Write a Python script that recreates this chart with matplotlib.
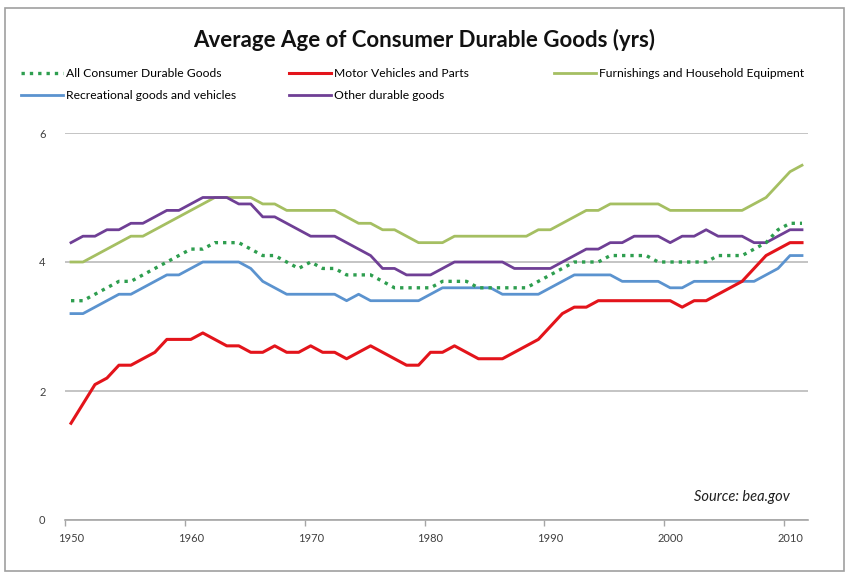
import numpy as np
import matplotlib
matplotlib.use("Agg")
import matplotlib.pyplot as plt
from matplotlib.lines import Line2D
from matplotlib.patches import Rectangle

plt.rcParams['font.family'] = ['Lato', 'DejaVu Sans']

years = list(range(1950, 2012))

all_goods = [3.4, 3.4, 3.5, 3.6, 3.7, 3.7, 3.8, 3.9, 4.0, 4.1,
             4.2, 4.2, 4.3, 4.3, 4.3, 4.2, 4.1, 4.1, 4.0, 3.9,
             4.0, 3.9, 3.9, 3.8, 3.8, 3.8, 3.7, 3.6, 3.6, 3.6,
             3.6, 3.7, 3.7, 3.7, 3.6, 3.6, 3.6, 3.6, 3.6, 3.7,
             3.8, 3.9, 4.0, 4.0, 4.0, 4.1, 4.1, 4.1, 4.1, 4.0,
             4.0, 4.0, 4.0, 4.0, 4.1, 4.1, 4.1, 4.2, 4.3, 4.5,
             4.6, 4.6]

motor = [1.5, 1.8, 2.1, 2.2, 2.4, 2.4, 2.5, 2.6, 2.8, 2.8,
         2.8, 2.9, 2.8, 2.7, 2.7, 2.6, 2.6, 2.7, 2.6, 2.6,
         2.7, 2.6, 2.6, 2.5, 2.6, 2.7, 2.6, 2.5, 2.4, 2.4,
         2.6, 2.6, 2.7, 2.6, 2.5, 2.5, 2.5, 2.6, 2.7, 2.8,
         3.0, 3.2, 3.3, 3.3, 3.4, 3.4, 3.4, 3.4, 3.4, 3.4,
         3.4, 3.3, 3.4, 3.4, 3.5, 3.6, 3.7, 3.9, 4.1, 4.2,
         4.3, 4.3]

furnishings = [4.0, 4.0, 4.1, 4.2, 4.3, 4.4, 4.4, 4.5, 4.6, 4.7,
               4.8, 4.9, 5.0, 5.0, 5.0, 5.0, 4.9, 4.9, 4.8, 4.8,
               4.8, 4.8, 4.8, 4.7, 4.6, 4.6, 4.5, 4.5, 4.4, 4.3,
               4.3, 4.3, 4.4, 4.4, 4.4, 4.4, 4.4, 4.4, 4.4, 4.5,
               4.5, 4.6, 4.7, 4.8, 4.8, 4.9, 4.9, 4.9, 4.9, 4.9,
               4.8, 4.8, 4.8, 4.8, 4.8, 4.8, 4.8, 4.9, 5.0, 5.2,
               5.4, 5.5]

recreational = [3.2, 3.2, 3.3, 3.4, 3.5, 3.5, 3.6, 3.7, 3.8, 3.8,
                3.9, 4.0, 4.0, 4.0, 4.0, 3.9, 3.7, 3.6, 3.5, 3.5,
                3.5, 3.5, 3.5, 3.4, 3.5, 3.4, 3.4, 3.4, 3.4, 3.4,
                3.5, 3.6, 3.6, 3.6, 3.6, 3.6, 3.5, 3.5, 3.5, 3.5,
                3.6, 3.7, 3.8, 3.8, 3.8, 3.8, 3.7, 3.7, 3.7, 3.7,
                3.6, 3.6, 3.7, 3.7, 3.7, 3.7, 3.7, 3.7, 3.8, 3.9,
                4.1, 4.1]

other = [4.3, 4.4, 4.4, 4.5, 4.5, 4.6, 4.6, 4.7, 4.8, 4.8,
         4.9, 5.0, 5.0, 5.0, 4.9, 4.9, 4.7, 4.7, 4.6, 4.5,
         4.4, 4.4, 4.4, 4.3, 4.2, 4.1, 3.9, 3.9, 3.8, 3.8,
         3.8, 3.9, 4.0, 4.0, 4.0, 4.0, 4.0, 3.9, 3.9, 3.9,
         3.9, 4.0, 4.1, 4.2, 4.2, 4.3, 4.3, 4.4, 4.4, 4.4,
         4.3, 4.4, 4.4, 4.5, 4.4, 4.4, 4.4, 4.3, 4.3, 4.4,
         4.5, 4.5]

labels = ['All Consumer Durable Goods', 'Motor Vehicles and Parts',
          'Furnishings and Household Equipment',
          'Recreational goods and vehicles', 'Other durable goods']

c_all = '#2E9E4F'
c_motor = '#E3141B'
c_furn = '#A5BF62'
c_rec = '#5B93CF'
c_other = '#6F3F95'

fig = plt.figure(figsize=(8.49, 5.75), dpi=100)
ax = fig.add_axes([65 / 849, 1 - 520 / 575, (808 - 65) / 849, (520 - 133) / 575])

ax.plot(years, furnishings, color=c_furn, lw=2.0, zorder=3)
ax.plot(years, recreational, color=c_rec, lw=2.0, zorder=3)
ax.plot(years, other, color=c_other, lw=2.0, zorder=4)
ax.plot(years, motor, color=c_motor, lw=2.2, zorder=4)
ax.plot(years, all_goods, color=c_all, lw=2.4, linestyle=(0, (1, 1.5)), zorder=5)

ax.set_xlim(1949.5, 2011.5)
ax.set_ylim(0, 6)
ax.set_yticks([0, 2, 4, 6])
ax.yaxis.grid(True, color='#BFBFBF', lw=1.3)
ax.set_axisbelow(True)

# year labels sit on the category centres, tick marks on the boundaries
ax.set_xticks(range(1950, 2011, 10))
ax.set_xticks(np.arange(1949.5, 2011, 10), minor=True)
ax.tick_params(axis='x', which='major', length=0, pad=9, labelsize=8, labelcolor='#404040')
ax.tick_params(axis='x', which='minor', length=4, color='#A6A6A6', width=1)
ax.tick_params(axis='y', length=0, pad=14, labelsize=8, labelcolor='#404040')
for s in ['top', 'right', 'left']:
    ax.spines[s].set_visible(False)
ax.spines['bottom'].set_color('#A6A6A6')
ax.spines['bottom'].set_linewidth(1.2)

ax.text(790 / 849, 1 - 497 / 575, 'Source: bea.gov', transform=fig.transFigure, ha='right',
        va='center', fontsize=10.5, style='italic', color='#202020')

fig.text(0.5, 1 - 40 / 575, 'Average Age of Consumer Durable Goods (yrs)',
         ha='center', va='center', fontsize=16, fontweight='bold', color='#111111')

h_all = Line2D([], [], color=c_all, lw=2.4, linestyle=(0, (1, 1.5)))
h_motor = Line2D([], [], color=c_motor, lw=2.2)
h_furn = Line2D([], [], color=c_furn, lw=2.0)
h_rec = Line2D([], [], color=c_rec, lw=2.0)
h_other = Line2D([], [], color=c_other, lw=2.0)

legend_cols = [([h_all, h_rec], [labels[0], labels[3]], 21),
               ([h_motor, h_other], [labels[1], labels[4]], 289),
               ([h_furn], [labels[2]], 554)]
for handles, names, xpix in legend_cols:
    fig.legend(handles, names, loc='upper left', bbox_to_anchor=(xpix / 849, 1 - 68 / 575),
               frameon=False, fontsize=8.7, handlelength=3.5, handletextpad=0.25,
               labelspacing=0.9, borderpad=0, borderaxespad=0)

fig.patches.append(Rectangle((5 / 849, 4 / 575), 839 / 849, 563 / 575, transform=fig.transFigure,
                             fill=False, edgecolor='#A0A0A0', lw=1.2))

fig.savefig('out.png', dpi=100)
